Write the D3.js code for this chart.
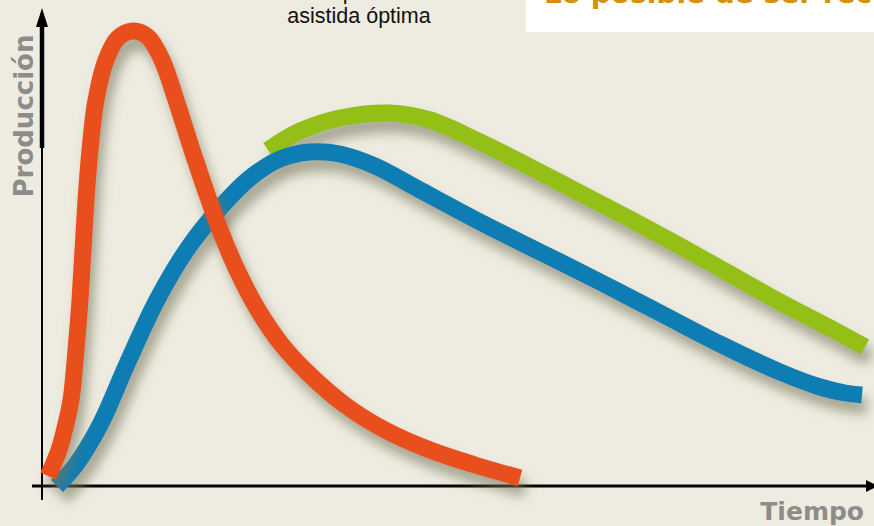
<!DOCTYPE html>
<html><head><meta charset="utf-8">
<script src="https://cdn.jsdelivr.net/npm/d3@7"></script>
<style>html,body{margin:0;padding:0;background:#eeece0;overflow:hidden}</style>
</head><body>
<script>
// Data (time units, production units)
const seriesNames = ["Primaria", "Secundaria", "Asistida óptima"];
const redT   = [0.75,1.375,2.125,2.875,3.625,4.25,4.75,5.5,6,6.75,8,9.5,11.375,13.25,15,16.75,18.75,20.875,22.5,24.5,27,30,33.5,37.875,42.875,48.5,54.125,59.75];
const redP   = [2.75,5.5,9.25,14.75,21.75,34.25,46.75,71.75,84.25,96.75,106.75,112.25,114,112.5,106.75,96.75,84.25,71.75,63,53.75,44.25,35.5,28,20.5,14.25,9.25,5.5,2.25];
const blueT  = [1.875,4.125,7.25,10.625,14.375,18.25,22.25,26,29.75,33.5,37.25,41.625,47.25,54.75,62.25,69.75,77.25,84.75,92.25,97.25,100.375,102.5];
const blueP  = [0.25,5.25,15.5,30.75,46.75,59.75,69.75,77.25,82,83.75,83.25,80.25,74.25,66.25,58.75,51.25,43.5,35.75,28.75,25,23.5,23];
const greenT = [28.25,32.25,37.25,43.5,48.5,54.75,61,67.25,73.5,79.75,86,92.25,98.5,102.875];
const greenP = [84.25,89,92.25,93.5,91.75,86.25,80,73.5,67,60.25,53.25,46.25,39.75,35];
const xLabel = "Tiempo";
const yLabel = "Producción";
const topLines = ["Recuperación", "asistida óptima"];
const boxText = "Lo posible de ser recuperado";

const W = 874, H = 526;
const svg = d3.select("body").append("svg").attr("width", W).attr("height", H);
svg.append("rect").attr("width", W).attr("height", H).attr("fill", "#eeece0");

const x = d3.scaleLinear().domain([0, 104]).range([42, 874]);
const y = d3.scaleLinear().domain([0, 115]).range([487, 27]);

const defs = svg.append("defs");
const f = defs.append("filter").attr("id", "sh").attr("x", "-20%").attr("y", "-20%").attr("width", "140%").attr("height", "150%");
f.append("feDropShadow").attr("dx", 5).attr("dy", 11).attr("stdDeviation", 6)
  .attr("flood-color", "#77775f").attr("flood-opacity", 0.6);

// top-right white box with orange text
svg.append("rect").attr("x", 526).attr("y", 0).attr("width", 348).attr("height", 32).attr("fill", "#ffffff");
svg.append("text").attr("x", 544).attr("y", 3)
  .attr("font-family", "DejaVu Sans").attr("font-weight", "bold").attr("font-size", 28)
  .attr("fill", "#d8900c").text(boxText);

// top black text
const tt = svg.append("text").attr("text-anchor", "middle")
  .attr("font-family", "Liberation Sans, Arial").attr("font-size", 21.5).attr("fill", "#111");
tt.append("tspan").attr("x", 359).attr("y", -1).text(topLines[0]);
tt.append("tspan").attr("x", 359).attr("y", 23).text(topLines[1]);

// axes
const ax = svg.append("g");
ax.append("line").attr("x1", x(0)).attr("x2", x(0)).attr("y1", 500).attr("y2", 147)
  .attr("stroke", "#000").attr("stroke-width", 2);
ax.append("line").attr("x1", x(0)).attr("x2", x(0)).attr("y1", 148).attr("y2", 22)
  .attr("stroke", "#000").attr("stroke-width", 4.5);
ax.append("path").attr("d", `M${x(0)},8 L${x(0)-6},27 L${x(0)+6},27 Z`).attr("fill", "#000");
ax.append("line").attr("x1", 32).attr("x2", 872).attr("y1", 486).attr("y2", 486)
  .attr("stroke", "#000").attr("stroke-width", 3);
ax.append("path").attr("d", `M878,486 L866,480 L866,492 Z`).attr("fill", "#000");

// curves
const line = d3.line().x(d => x(d[0])).y(d => y(d[1])).curve(d3.curveCatmullRom.alpha(0.5));
const series = [
  {t: greenT, p: greenP, c: "#93bf19"},
  {t: blueT, p: blueP, c: "#0a7db3"},
  {t: redT, p: redP, c: "#e8501c"}
];
series.forEach(s => {
  const pts = s.t.map((t, i) => [t, s.p[i]]);
  svg.append("path").attr("d", line(pts)).attr("fill", "none")
    .attr("stroke", s.c).attr("stroke-width", 17).attr("stroke-linecap", "butt")
    .attr("stroke-linejoin", "round").attr("filter", "url(#sh)");
});

// axis labels
svg.append("text").attr("transform", "translate(33,116) rotate(-90)").attr("text-anchor", "middle")
  .attr("font-family", "DejaVu Sans").attr("font-weight", "bold").attr("font-size", 26)
  .attr("fill", "#8c8c8a").text(yLabel);
svg.append("text").attr("x", 864).attr("y", 519.5).attr("text-anchor", "end")
  .attr("font-family", "DejaVu Sans").attr("font-weight", "bold").attr("font-size", 25)
  .attr("fill", "#8c8c8a").text(xLabel);
</script>
</body></html>
